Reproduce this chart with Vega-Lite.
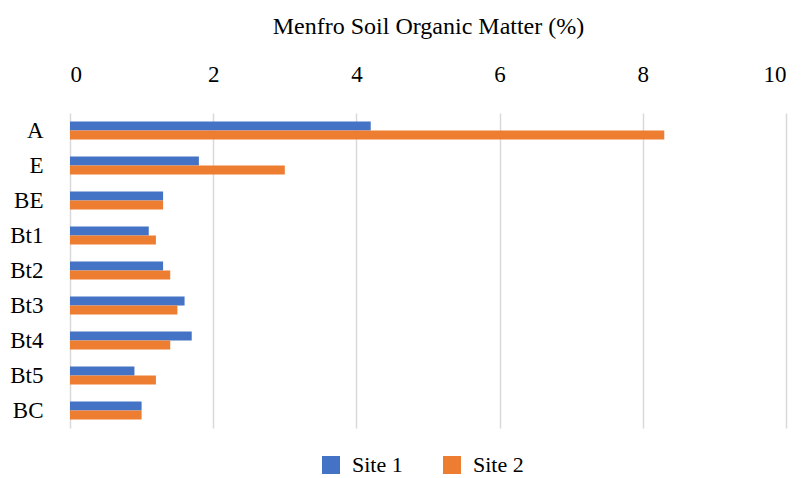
{
  "$schema": "https://vega.github.io/schema/vega-lite/v6.json",
  "width": 716,
  "height": 315,
  "autosize": {"type": "none"},
  "padding": {"left": 70, "top": 113, "right": 18, "bottom": 50},
  "background": "white",
  "config": {"view": {"stroke": null}, "font": "Liberation Serif"},
  "data": {"values": [
    {"horizon": "A", "site": "Site 1", "om": 4.2},
    {"horizon": "A", "site": "Site 2", "om": 8.3},
    {"horizon": "E", "site": "Site 1", "om": 1.8},
    {"horizon": "E", "site": "Site 2", "om": 3.0},
    {"horizon": "BE", "site": "Site 1", "om": 1.3},
    {"horizon": "BE", "site": "Site 2", "om": 1.3},
    {"horizon": "Bt1", "site": "Site 1", "om": 1.1},
    {"horizon": "Bt1", "site": "Site 2", "om": 1.2},
    {"horizon": "Bt2", "site": "Site 1", "om": 1.3},
    {"horizon": "Bt2", "site": "Site 2", "om": 1.4},
    {"horizon": "Bt3", "site": "Site 1", "om": 1.6},
    {"horizon": "Bt3", "site": "Site 2", "om": 1.5},
    {"horizon": "Bt4", "site": "Site 1", "om": 1.7},
    {"horizon": "Bt4", "site": "Site 2", "om": 1.4},
    {"horizon": "Bt5", "site": "Site 1", "om": 0.9},
    {"horizon": "Bt5", "site": "Site 2", "om": 1.2},
    {"horizon": "BC", "site": "Site 1", "om": 1.0},
    {"horizon": "BC", "site": "Site 2", "om": 1.0}
  ]},
  "mark": {"type": "bar"},
  "encoding": {
    "y": {
      "field": "horizon", "type": "nominal",
      "sort": ["A", "E", "BE", "Bt1", "Bt2", "Bt3", "Bt4", "Bt5", "BC"],
      "scale": {"paddingInner": 0.486, "paddingOuter": 0.243},
      "axis": {"title": null, "domain": false, "ticks": false, "labelFontSize": 23, "labelColor": "#000000", "labelPadding": 27, "labelFont": "Liberation Serif"}
    },
    "yOffset": {"field": "site", "type": "nominal", "sort": ["Site 1", "Site 2"]},
    "x": {
      "field": "om", "type": "quantitative",
      "scale": {"domain": [0, 10], "nice": false},
      "axis": {
        "orient": "top", "title": "Menfro Soil Organic Matter (%)", "titleFontSize": 24, "titleFontWeight": "normal", "titleColor": "#000000", "titleFont": "Liberation Serif", "titlePadding": 25,
        "values": [0, 2, 4, 6, 8, 10], "domain": false, "ticks": false,
        "labelFontSize": 23, "labelColor": "#000000", "labelPadding": 27, "labelFont": "Liberation Serif",
        "grid": true, "gridColor": "#d9d9d9", "gridWidth": 1.5
      }
    },
    "color": {
      "field": "site", "type": "nominal",
      "scale": {"domain": ["Site 1", "Site 2"], "range": ["#4472C4", "#ED7D31"]},
      "legend": {
        "title": null, "orient": "none", "direction": "horizontal", "legendX": 250, "legendY": 341,
        "symbolType": "square", "symbolSize": 324, "symbolStrokeWidth": 0,
        "labelFontSize": 22, "labelColor": "#000000", "labelFont": "Liberation Serif", "labelOffset": 10, "columnPadding": 38
      }
    }
  }
}
